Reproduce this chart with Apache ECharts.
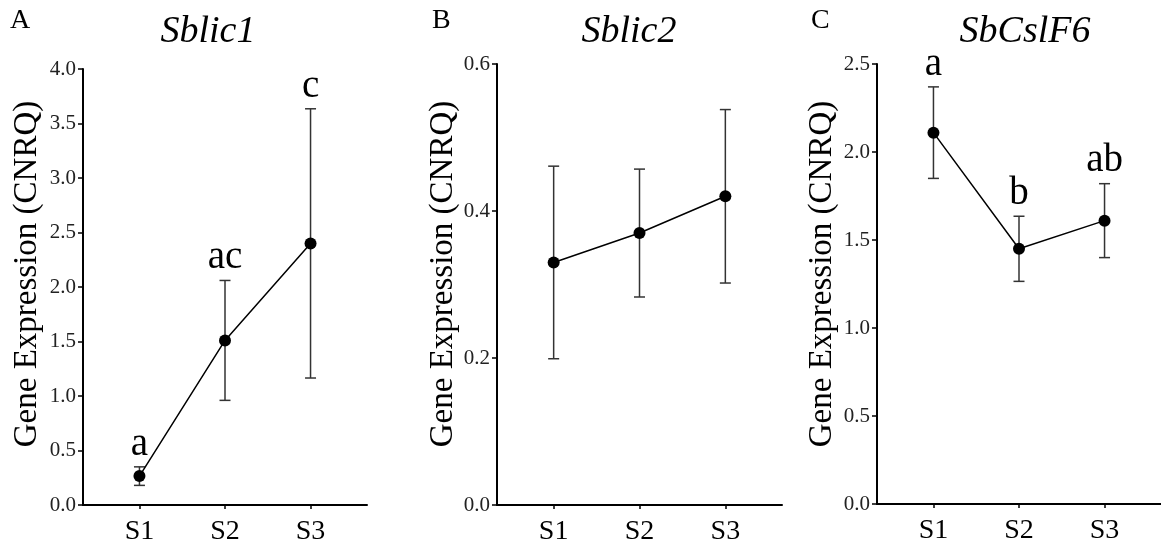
<!DOCTYPE html>
<html><head><meta charset="utf-8">
<script src="https://cdn.jsdelivr.net/npm/echarts@6/dist/echarts.min.js"></script>
<style>html,body{margin:0;padding:0;background:#fff}#c{width:1161px;height:546px}</style>
</head><body><div id="c"></div>
<script>
const categories = ['S1', 'S2', 'S3'];
const panelLetters = ['A', 'B', 'C'];
const geneNames = ['Sblic1', 'Sblic2', 'SbCslF6'];
const yAxisTitle = 'Gene Expression (CNRQ)';

const sblic1Mean = [0.265, 1.51, 2.40];
const sblic1Err = [0.085, 0.55, 1.235];
const sblic1Letters = ['a', 'ac', 'c'];

const sblic2Mean = [0.33, 0.37, 0.42];
const sblic2Err = [0.131, 0.087, 0.118];
const sblic2Letters = ['', '', ''];

const sbcslf6Mean = [2.11, 1.45, 1.61];
const sbcslf6Err = [0.26, 0.185, 0.21];
const sbcslf6Letters = ['a', 'b', 'ab'];

const yMax = [4.0, 0.6, 2.5];
const yInterval = [0.5, 0.2, 0.5];

const means = [sblic1Mean, sblic2Mean, sbcslf6Mean];
const errs = [sblic1Err, sblic2Err, sbcslf6Err];
const letters = [sblic1Letters, sblic2Letters, sbcslf6Letters];

const FONT = "'Liberation Serif', 'Times New Roman', serif";
const grids = [
  { left: 83, top: 69, width: 284, height: 440 },
  { left: 497, top: 64, width: 285, height: 441 },
  { left: 877, top: 64, width: 284, height: 440 }
];
const titleX = [208, 629, 1025];
const letterX = [10, 432, 811];
const yTitleX = [27, 443, 822];

const xAxes = [], yAxes = [], series = [], graphics = [];
for (let i = 0; i < 3; i++) {
  xAxes.push({
    type: 'value', gridIndex: i, min: 0.34, max: 3.66,
    axisLine: { show: true, onZero: false, lineStyle: { color: '#000', width: 2 } },
    axisTick: { show: true, customValues: [1, 2, 3], length: 4, lineStyle: { color: '#000', width: 1.5 } },
    axisLabel: { customValues: [1, 2, 3], formatter: v => categories[Math.round(v) - 1],
      fontFamily: FONT, fontSize: 28, color: '#000', margin: 13 },
    splitLine: { show: false }
  });
  yAxes.push({
    type: 'value', gridIndex: i, min: 0, max: yMax[i], interval: yInterval[i],
    axisLine: { show: true, onZero: false, lineStyle: { color: '#000', width: 2 } },
    axisTick: { show: true, length: 5, lineStyle: { color: '#000', width: 1.5 } },
    axisLabel: { formatter: v => v.toFixed(1), fontFamily: FONT, fontSize: 21, color: '#222', margin: 7 },
    splitLine: { show: false }
  });
  const m = means[i], e = errs[i];
  series.push({
    type: 'custom', xAxisIndex: i, yAxisIndex: i, z: 2,
    data: m.map((v, k) => [k + 1, v - e[k], v + e[k]]),
    renderItem: function (params, api) {
      const x = api.value(0);
      const lo = api.coord([x, api.value(1)]);
      const hi = api.coord([x, api.value(2)]);
      const hw = 5.5;
      const st = { stroke: '#333', lineWidth: 1.5 };
      return { type: 'group', children: [
        { type: 'line', shape: { x1: lo[0], y1: lo[1], x2: hi[0], y2: hi[1] }, style: st },
        { type: 'line', shape: { x1: hi[0] - hw, y1: hi[1], x2: hi[0] + hw, y2: hi[1] }, style: st },
        { type: 'line', shape: { x1: lo[0] - hw, y1: lo[1], x2: lo[0] + hw, y2: lo[1] }, style: st }
      ] };
    }
  });
  series.push({
    type: 'line', xAxisIndex: i, yAxisIndex: i, z: 3,
    data: m.map((v, k) => [k + 1, v]),
    symbol: 'circle', symbolSize: 12,
    itemStyle: { color: '#000' },
    lineStyle: { color: '#000', width: 1.5 },
    animation: false
  });
  series.push({
    type: 'scatter', xAxisIndex: i, yAxisIndex: i, z: 4,
    data: m.map((v, k) => [k + 1, v + e[k], letters[i][k]]),
    symbolSize: 0,
    itemStyle: { opacity: 1, color: '#000' },
    label: { show: true, position: 'top', distance: 3, formatter: p => p.data[2],
      fontFamily: FONT, fontSize: 39, color: '#000', opacity: 1 },
    silent: true
  });
  graphics.push({
    type: 'text', x: titleX[i], y: 32,
    style: { text: geneNames[i], fontFamily: FONT, fontStyle: 'italic', fontSize: 38, fill: '#000',
      align: 'center', verticalAlign: 'middle' }
  });
  graphics.push({
    type: 'text', x: letterX[i], y: 21,
    style: { text: panelLetters[i], fontFamily: FONT, fontSize: 28, fill: '#000',
      align: 'left', verticalAlign: 'middle' }
  });
  graphics.push({
    type: 'text', x: yTitleX[i], y: 274, rotation: Math.PI / 2,
    style: { text: yAxisTitle, fontFamily: FONT, fontSize: 33, fill: '#000',
      align: 'center', verticalAlign: 'middle' }
  });
}

const chart = echarts.init(document.getElementById('c'), null, { renderer: 'canvas' });
chart.setOption({
  animation: false,
  backgroundColor: '#fff',
  grid: grids,
  xAxis: xAxes,
  yAxis: yAxes,
  series: series,
  graphic: graphics
});
</script>
</body></html>
